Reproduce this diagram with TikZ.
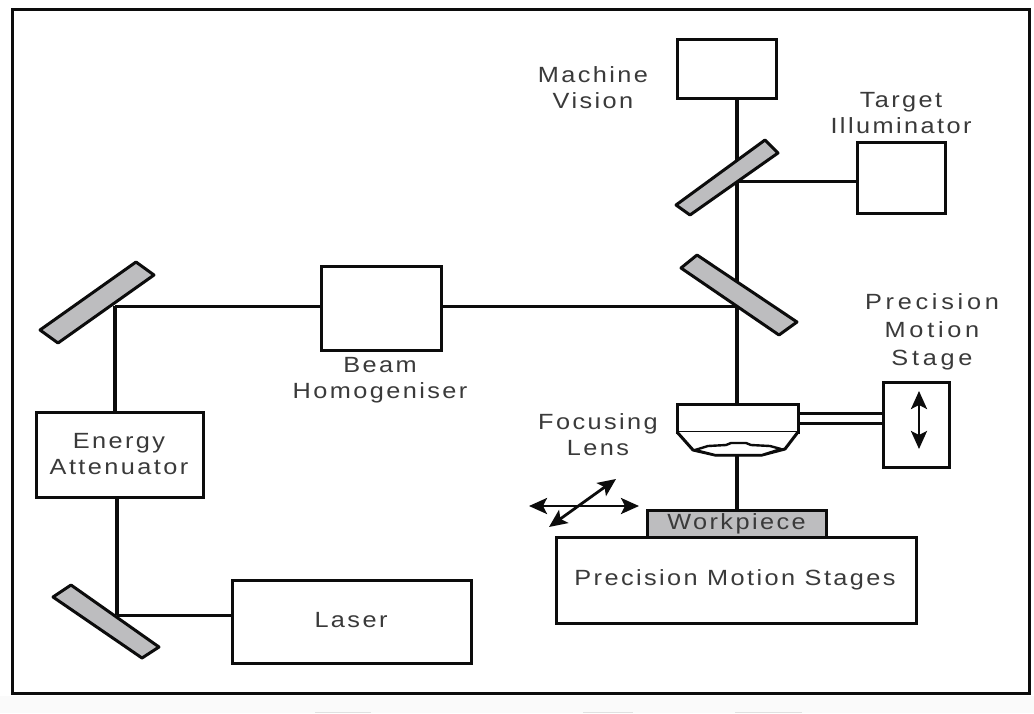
\documentclass[tikz,border=0pt]{standalone}
\usepackage{fontspec}
\setmainfont{Liberation Sans}[LetterSpace=11,FakeStretch=1.15]
\usetikzlibrary{arrows.meta}
\definecolor{ink}{HTML}{0C0C0C}
\definecolor{txt}{HTML}{3A3A3A}
\definecolor{mirrorgray}{HTML}{BDBDBF}
\tikzset{
  x=1pt,y=-1pt,
  boxn/.style={draw=ink,line width=3pt,fill=white,inner sep=0pt,outer sep=0pt},
  mirror/.style={draw=ink,line width=3pt,fill=mirrorgray,line join=round},
  beam/.style={draw=ink,line width=3.4pt},
  hbeam/.style={draw=ink,line width=3pt},
  lab/.style={text=txt,font=\fontsize{22}{26}\selectfont,align=center,inner sep=0pt},
  tip/.style={draw=ink,line width=2.8pt,{Stealth[length=18pt,width=16pt,inset=4pt]}-{Stealth[length=18pt,width=16pt,inset=4pt]}},
}
\begin{document}
\begin{tikzpicture}
\useasboundingbox (0,0) rectangle (1034,713);
\fill[white] (0,0) rectangle (1034,713);
\fill[black!2] (0,696) rectangle (1034,713);
\draw[ink,line width=3pt] (12,9) rectangle (1029,693);
\foreach \a/\b in {315/371,583/633,735/802}{\draw[black!12,line width=1pt] (\a,712.5) -- (\b,712.5);}
% junction points
\coordinate (jtl) at (115,306);
\coordinate (jbl) at (117,615);
\coordinate (jtr) at (737,181);
\coordinate (jmr) at (737,306);
\coordinate (jarm1) at (798,413);
\coordinate (jarm2) at (798,423);
% beam lines and boxes
\node[boxn,minimum width=99pt,minimum height=59pt] (vision) at (726.5,68.5) {};
\node[boxn,minimum width=88pt,minimum height=71pt] (illum) at (901,177.5) {};
\node[boxn,minimum width=120pt,minimum height=84pt] (homog) at (381,308) {};
\node[boxn,minimum width=167pt,minimum height=85pt] (atten) at (119.5,454.5) {};
\node[boxn,minimum width=239pt,minimum height=83pt] (laser) at (351.5,621.5) {};
\node[boxn,minimum width=66pt,minimum height=85pt] (stage) at (916,424.5) {};
\node[boxn,minimum width=360pt,minimum height=86pt] (stages) at (736,580) {};
\node[boxn,fill=mirrorgray,minimum width=179pt,minimum height=27pt,text=txt,font=\fontsize{22}{24}\selectfont] (work) at (736.5,523.5) {Workpiece};
% lens
\node[boxn,minimum width=121pt,minimum height=28pt] (lens) at (737.5,418) {};
\draw[ink,line width=3pt,fill=white,line join=round] (lens.south west) -- (693,450) -- (715,455) -- (762,455) -- (785,449) -- (lens.south east);
\draw[ink,line width=2.4pt,fill=white,line join=round] (695,450) -- (708,446) -- (726,445) -- (731,443) -- (746,443) -- (751,445) -- (770,446) -- (781,449) -- (762,455) -- (715,455) -- cycle;
\coordinate (lensb) at (737,455);
\coordinate (worktop) at (737,510);
\coordinate (lenst) at (737,404);
% connectors
\draw[beam] (jtl |- atten.north) -- (jtl);
\draw[hbeam] (jtl) -- (homog.west |- jtl);
\draw[hbeam] (homog.east |- jmr) -- (jmr);
\draw[beam] (jbl |- atten.south) -- (jbl);
\draw[hbeam] (jbl) -- (laser.west |- jbl);
\draw[beam] (jtr |- vision.south) -- (lenst);
\draw[hbeam] (jtr) -- (illum.west |- jtr);
\draw[beam] (lensb) -- (worktop);
\draw[hbeam] (jarm1) -- (stage.west |- jarm1);
\draw[hbeam] (jarm2) -- (stage.west |- jarm2);
% mirrors
\draw[mirror] (40,330) -- (136,262) -- (154,275) -- (58,343) -- cycle;
\draw[mirror] (53,597) -- (71,585) -- (159,647) -- (142,658) -- cycle;
\draw[mirror] (676,205) -- (765,140) -- (778,153) -- (690,215) -- cycle;
\draw[mirror] (681,268) -- (697,255) -- (797,322) -- (779,335) -- cycle;
% motion arrows
\coordinate (ua) at (919,391);
\coordinate (ub) at (919,449);
\draw[tip] (ua) -- (ub);
\coordinate (ha) at (529,506);
\coordinate (hb) at (639,506);
\draw[tip] (ha) -- (hb);
\coordinate (da) at (549,527);
\coordinate (db) at (616,479);
\draw[tip] (da) -- (db);
% labels
\node[lab] (tvision) at (593,88) {Machine\\Vision};
\node[lab] (tillum) at (901,113) {Target\\Illuminator};
\node[lab] (thomog) at (380,380) {Beam\\Homogeniser};
\node[lab] (tatten) at (119,454) {Energy\\Attenuator};
\node[lab] (tlaser) at (351,620) {Laser};
\node[lab,font=\fontsize{22}{28}\selectfont\addfontfeature{LetterSpace=17}] (tstage) at (932,332) {Precision\\Motion\\Stage};
\node[lab] (tlens) at (598,435) {Focusing\\Lens};
\node[lab] (tstages) at (735,580) {Precision Motion Stages};
\end{tikzpicture}
\end{document}
